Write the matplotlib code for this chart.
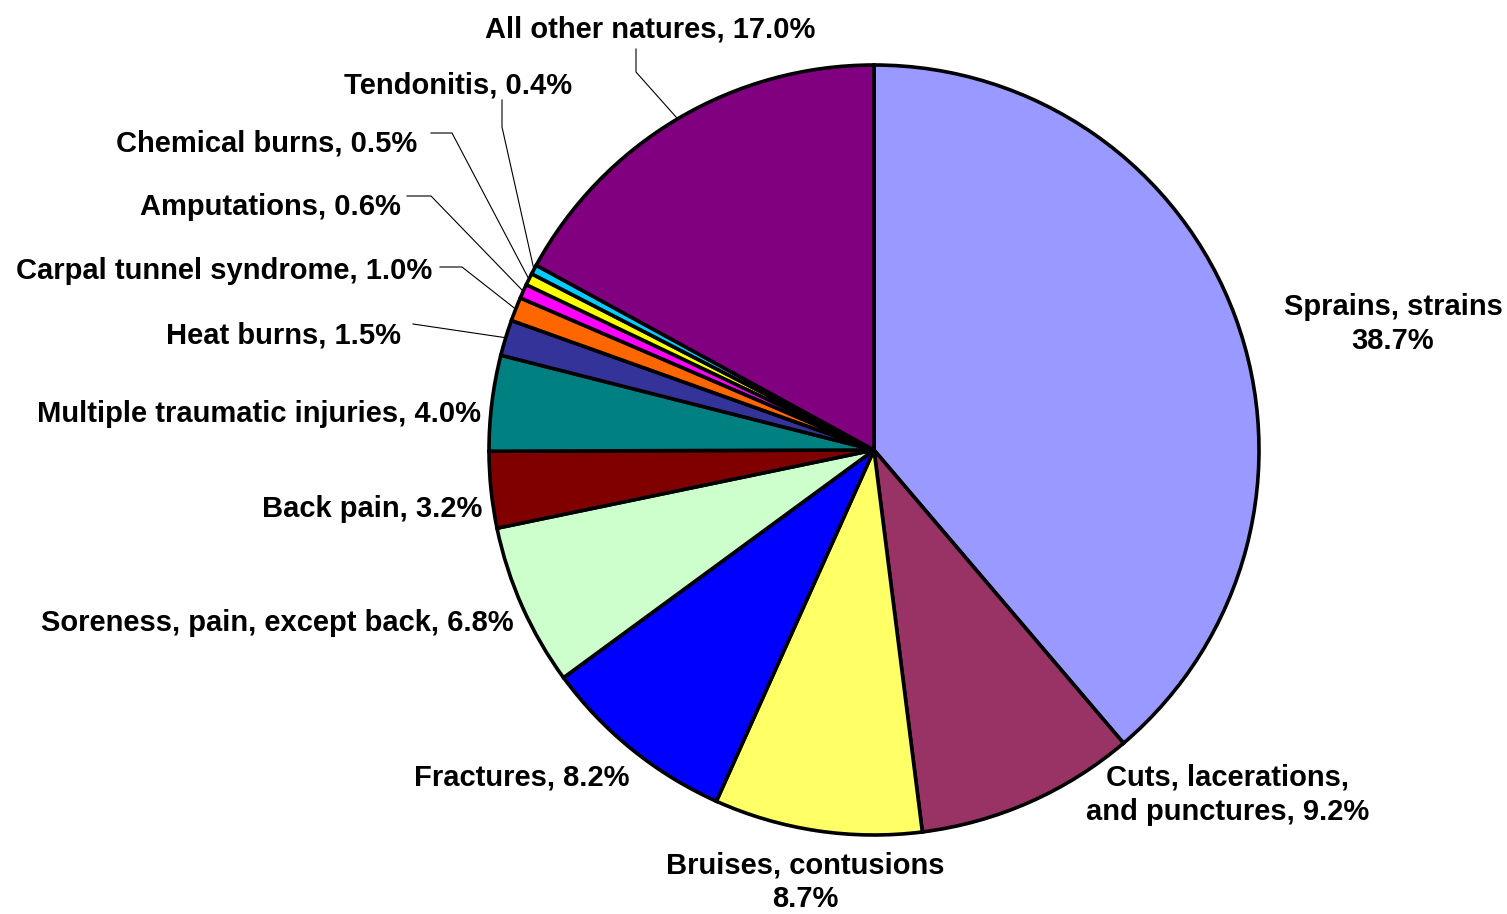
import numpy as np
import matplotlib
matplotlib.use("Agg")
import matplotlib.pyplot as plt

categories = ["Sprains, strains", "Cuts, lacerations,\nand punctures", "Bruises, contusions",
              "Fractures", "Soreness, pain, except back", "Back pain",
              "Multiple traumatic injuries", "Heat burns", "Carpal tunnel syndrome",
              "Amputations", "Chemical burns", "Tendonitis", "All other natures"]
values = [38.7, 9.2, 8.7, 8.2, 6.8, 3.2, 4.0, 1.5, 1.0, 0.6, 0.5, 0.4, 17.0]
colors = ["#9999FF", "#993366", "#FFFF66", "#0000FF", "#CCFFCC", "#800000",
          "#008080", "#333399", "#FF6600", "#FF00FF", "#FFFF00", "#00CCFF", "#800080"]

W, H = 1507, 914
fig = plt.figure(figsize=(W / 100, H / 100), dpi=100)
ax = fig.add_axes([0, 0, 1, 1])

cx, cy, R = 874, H - 450, 385
wedges, _ = ax.pie(values, colors=colors, startangle=90, counterclock=False,
                   center=(cx, cy), radius=R, frame=True,
                   wedgeprops=dict(edgecolor="black", linewidth=2.6))
ax.set_xlim(0, W)
ax.set_ylim(0, H)
ax.set_aspect("equal")
ax.axis("off")

font = dict(family="Liberation Sans", weight="bold", fontsize=21, color="black")

def py(y):
    return H - y

def fmt(i):
    return f"{values[i]:.1f}%"

# label placements: (x, y, ha, text, linespacing)
labels = {
    0: (1393, 324, "center", categories[0] + "\n" + fmt(0), 1.3),
    1: (1228, 795, "center", categories[1] + ", " + fmt(1), 1.3),
    2: (805, 882, "center", categories[2] + "\n" + fmt(2), 1.25),
    3: (629, 777, "right", categories[3] + ", " + fmt(3), 1.3),
    4: (514, 623, "right", categories[4] + ", " + fmt(4), 1.3),
    5: (482, 509, "right", categories[5] + ", " + fmt(5), 1.3),
    6: (481, 414, "right", categories[6] + ", " + fmt(6), 1.3),
    7: (401, 335, "right", categories[7] + ", " + fmt(7), 1.3),
    8: (432, 271, "right", categories[8] + ", " + fmt(8), 1.3),
    9: (401, 207, "right", categories[9] + ", " + fmt(9), 1.3),
    10: (417, 143, "right", categories[10] + ", " + fmt(10), 1.3),
    11: (572, 85, "right", categories[11] + ", " + fmt(11), 1.3),
    12: (815, 29, "right", categories[12] + ", " + fmt(12), 1.3),
}
for i, (x, y, ha, t, ls) in labels.items():
    ax.text(x, py(y), t, ha=ha, va="center", linespacing=ls, **font)

# leader lines: list of pixel points before reaching the wedge edge
leaders = {
    12: [(636, 49), (636, 72)],
    11: [(502, 100), (502, 127)],
    10: [(431, 133), (452, 133)],
    9: [(407, 196), (431, 196)],
    8: [(440, 267), (462, 267)],
    7: [(413, 324)],
}
for i, pts in leaders.items():
    w = wedges[i]
    mid = np.deg2rad((w.theta1 + w.theta2) / 2)
    ex, ey = cx + R * np.cos(mid), cy + R * np.sin(mid)
    xs = [p[0] for p in pts] + [ex]
    ys = [py(p[1]) for p in pts] + [ey]
    ax.plot(xs, ys, color="black", linewidth=0.8, zorder=0.5)

fig.savefig("out.png", dpi=100, facecolor="white")
